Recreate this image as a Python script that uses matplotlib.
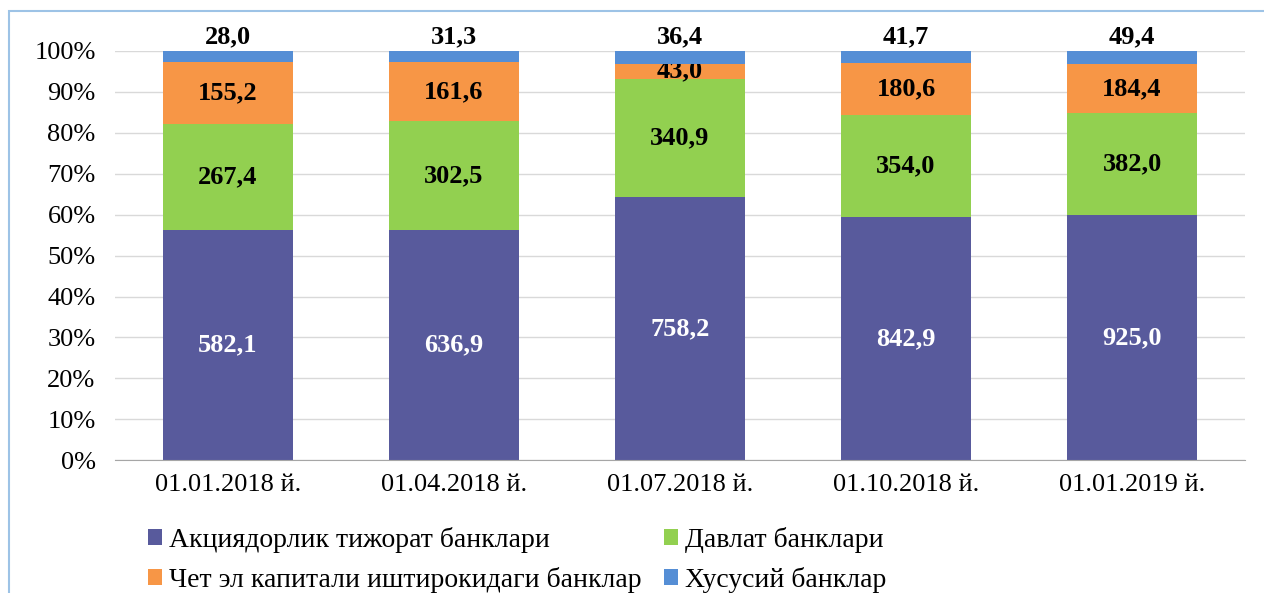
import matplotlib.pyplot as plt
import matplotlib.patches as mpatches
import numpy as np

plt.rcParams['font.family'] = ['Liberation Serif', 'DejaVu Serif']

dates = ['01.01.2018 й.', '01.04.2018 й.', '01.07.2018 й.', '01.10.2018 й.', '01.01.2019 й.']
names = ['Акциядорлик тижорат банклари', 'Давлат банклари',
         'Чет эл капитали иштирокидаги банклар', 'Хусусий банклар']
aksiya = [582.1, 636.9, 758.2, 842.9, 925.0]
davlat = [267.4, 302.5, 340.9, 354.0, 382.0]
chet = [155.2, 161.6, 43.0, 180.6, 184.4]
xususiy = [28.0, 31.3, 36.4, 41.7, 49.4]
colors = ['#585A9C', '#92D050', '#F79646', '#558ED5']

series = np.array([aksiya, davlat, chet, xususiy])
share = series / series.sum(axis=0) * 100

fig = plt.figure(figsize=(12.64, 5.93), dpi=100)
ax = fig.add_axes([0.091, 0.224, 0.894, 0.69])

x = np.arange(len(dates))
bottom = np.zeros(len(dates))
bars = []
for i in range(4):
    b = ax.bar(x, share[i], 0.575, bottom=bottom, color=colors[i], label=names[i], zorder=3)
    bars.append(b)
    for j in range(len(dates)):
        txt = f'{series[i][j]:.1f}'.replace('.', ',')
        if i == 3:
            ax.text(x[j], 100.6, txt, ha='center', va='bottom', fontsize=19,
                    fontweight='bold', color='black')
        else:
            ax.text(x[j], bottom[j] + share[i][j] / 2, txt, ha='center', va='center',
                    fontsize=19, fontweight='bold',
                    color='white' if i == 0 else 'black')
    bottom += share[i]

ax.set_ylim(0, 100)
ax.set_xlim(-0.5, len(dates) - 0.5)
ax.set_yticks(np.arange(0, 101, 10))
ax.set_yticklabels([f'{v}%' for v in range(0, 101, 10)])
ax.set_xticks(x)
ax.set_xticklabels(dates)
ax.tick_params(axis='both', length=0, labelsize=19)
ax.tick_params(axis='x', pad=10)
ax.tick_params(axis='y', pad=14)
ax.grid(axis='y', color='#D9D9D9', linewidth=1, zorder=0)
for s in ['top', 'right', 'left']:
    ax.spines[s].set_visible(False)
ax.spines['bottom'].set_color('#A6A6A6')
ax.spines['bottom'].set_zorder(4)

handles = [bars[0], bars[2], bars[1], bars[3]]
labels = [names[0], names[2], names[1], names[3]]
fig.legend(handles, labels, ncol=2, loc='lower left', bbox_to_anchor=(148 / 1264, 0.0),
           frameon=False, fontsize=20, handlelength=0.5, handleheight=0.5,
           handletextpad=0.25, columnspacing=0.8, labelspacing=0.5,
           borderpad=0, borderaxespad=0)

fig.patches.append(mpatches.Rectangle((9 / 1264, -0.1), 1.2, (593 - 11) / 593 + 0.1,
                                      transform=fig.transFigure, fill=False,
                                      edgecolor='#9DC3E6', linewidth=1.5))

fig.savefig('out.png', dpi=100)
